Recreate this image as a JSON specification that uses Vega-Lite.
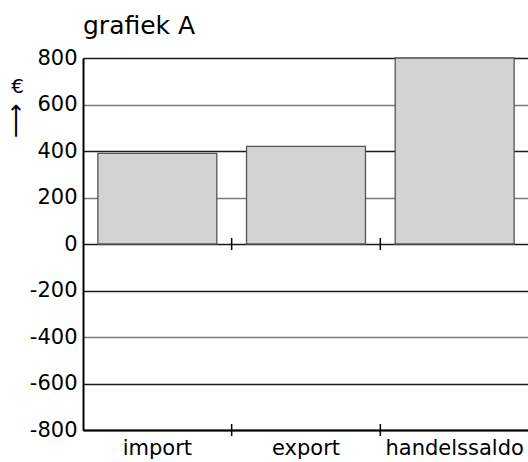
{
  "$schema": "https://vega.github.io/schema/vega-lite/v6.json",
  "autosize": "none",
  "padding": {"left": 83, "top": 58, "right": 0, "bottom": 32},
  "width": 446,
  "height": 372,
  "config": {
    "font": "DejaVu Sans",
    "view": {"stroke": null},
    "axis": {"labelColor": "black", "labelFont": "DejaVu Sans", "titleFont": "DejaVu Sans", "titleColor": "black", "titleFontWeight": "normal"}
  },
  "title": {
    "text": "grafiek A",
    "anchor": "start",
    "frame": "group",
    "fontSize": 25,
    "fontWeight": "normal",
    "font": "DejaVu Sans",
    "color": "black",
    "baseline": "alphabetic",
    "offset": -12
  },
  "layer": [
    {
      "data": {"values": [
        {"categorie": "import", "waarde": 390},
        {"categorie": "export", "waarde": 420},
        {"categorie": "handelssaldo", "waarde": 800}
      ]},
      "mark": {"type": "bar", "width": {"band": 0.8}, "fill": "#d3d3d3", "stroke": "#555555", "strokeWidth": 1.3},
      "encoding": {
        "x": {
          "field": "categorie", "type": "nominal", "sort": null,
          "scale": {"paddingInner": 0, "paddingOuter": 0},
          "axis": {"title": null, "labelAngle": 0, "labelFontSize": 21, "labelPadding": 7, "ticks": false, "domain": true, "domainColor": "black", "domainWidth": 2, "grid": false}
        },
        "y": {
          "field": "waarde", "type": "quantitative",
          "scale": {"domain": [-800, 800], "nice": false},
          "axis": {
            "values": [-800, -600, -400, -200, 0, 200, 400, 600, 800],
            "labelExpr": "datum.value < 0 ? '-' + abs(datum.value) : '' + datum.value",
            "labelFontSize": 21, "labelPadding": 6, "ticks": false,
            "domainColor": "black", "domainWidth": 2,
            "grid": true, "gridWidth": 1.4, "gridOpacity": 1,
            "gridColor": {"condition": {"test": "datum.value === 600 || datum.value === 200 || datum.value === -400", "value": "#7a7a7a"}, "value": "#1a1a1a"},
            "title": "€", "titleAngle": 0, "titleFontSize": 20, "titleX": -66, "titleY": 28, "titleAlign": "center", "titleBaseline": "middle"
          }
        }
      }
    },
    {
      "mark": {"type": "rule", "color": "black", "strokeWidth": 2},
      "encoding": {"y": {"datum": 0, "type": "quantitative", "axis": null}}
    },
    {
      "data": {"values": [
        {"categorie": "export", "waarde": 0},
        {"categorie": "handelssaldo", "waarde": 0},
        {"categorie": "export", "waarde": -800},
        {"categorie": "handelssaldo", "waarde": -800}
      ]},
      "mark": {"type": "rule", "color": "black", "strokeWidth": 1.5, "yOffset": -6, "y2Offset": 6},
      "encoding": {
        "x": {"field": "categorie", "type": "nominal", "sort": ["import", "export", "handelssaldo"], "bandPosition": 0},
        "y": {"field": "waarde", "type": "quantitative", "axis": {"orient": "left", "labels": false, "ticks": false, "domain": false, "grid": false, "title": "⟶", "titleAngle": 270, "titleFontSize": 24, "titleFontWeight": 200, "titleX": -67, "titleY": 62, "titleAlign": "center", "titleBaseline": "middle"}},
        "y2": {"field": "waarde"}
      }
    }
  ],
  "resolve": {"axis": {"y": "independent"}}
}
